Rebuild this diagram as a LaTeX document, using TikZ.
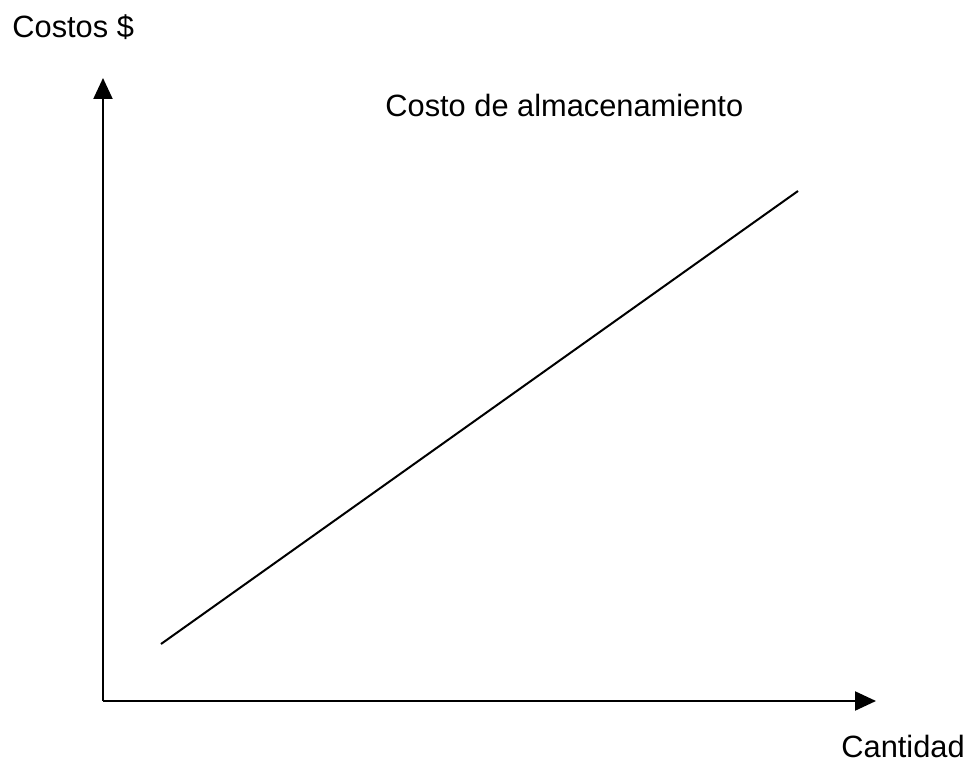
\documentclass[tikz,border=0pt]{standalone}
\usepackage{fontspec}
\setmainfont{Liberation Sans}
\usepackage{tikz}
\usetikzlibrary{positioning, arrows.meta}
\tikzstyle{axis} = [line width=1.1pt, -{Triangle[length=10.5pt, width=9.5pt]}]
\tikzstyle{costline} = [line width=1pt]
\tikzstyle{label} = [inner sep=0pt, anchor=base west, font=\fontsize{15.4}{18}\selectfont]

\begin{document}
\begin{tikzpicture}[x=0.5pt, y=-0.5pt]
  \useasboundingbox (0,0) rectangle (969,765);

  % Axes
  \coordinate (origin) at (103,701);
  \coordinate (ytop) at (103,78);
  \coordinate (xend) at (876,701);
  \draw[axis] (origin) -- (ytop);
  \draw[axis] (origin) -- (xend);

  % Labels
  \node[label] (ylabel) at (12,38)   {Costos \$};
  \node[label] (xlabel) at (841,757) {Cantidad};
  \node[label] (title)  at (385,117) {Costo de almacenamiento};

  % Storage cost
  \coordinate (low) at (161,644);
  \coordinate (high) at (798,191);
  \draw[costline] (low) -- (high);
\end{tikzpicture}
\end{document}
